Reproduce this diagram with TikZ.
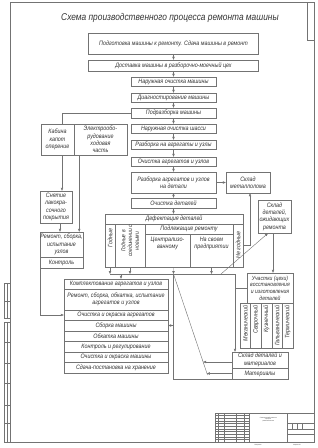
\documentclass[tikz,border=0pt]{standalone}
\usepackage{fontspec}
\setmainfont{Liberation Sans}[FakeStretch=0.85]
\usetikzlibrary{arrows.meta}

\begin{document}
\begin{tikzpicture}[x=1mm, y=-1mm, line width=1.2pt, color=black!55,
  every node/.style={font=\fontsize{18}{21}\selectfont\itshape, text=black!80},
  blk/.style={draw, inner sep=0pt, align=center},
  mid/.style={blk, minimum width=85mm},
  low/.style={blk, minimum width=104mm},
  arr/.style={-{Triangle[length=3mm,width=2.4mm]}},
  tiny/.style={font=\fontsize{4.5}{5}\selectfont\itshape, align=center}]
  \useasboundingbox (0,0) rectangle (317,448);

  % frame
  \draw[line width=1.5pt] (10.7,2.7) rectangle (314.3,442);
  \draw (306.8,2.7) rectangle (314.3,40);
  \draw (4.4,283) rectangle (10.7,318);
  \draw (4.4,301) -- (10.7,301);
  \draw (7.1,283) -- (7.1,318);
  \draw (4.4,322) rectangle (10.7,442);
  \foreach \y in {342,363,383,405,423} \draw (4.4,\y) -- (10.7,\y);
  \draw (7.1,322) -- (7.1,442);

  % title block
  \draw[line width=1.5pt] (215,413) rectangle (314.3,442);
  \foreach \x in {218.7,224,236.3,244.3,249.6} \draw (\x,413) -- (\x,442);
  \foreach \y in {415.7,418.3,421,423.7,426.4,429,431.7,434.4,437.1,439.7} \draw (215,\y) -- (249.6,\y);
  \draw (287,413) -- (287,442);
  \draw (287,423.7) -- (314.3,423.7);
  \draw (287,429) -- (314.3,429);
  \draw (287,434.4) -- (314.3,434.4);
  \foreach \x in {292,297,302} \draw (\x,423.7) -- (\x,429);
  \node[tiny] (name) at (268.3,419.5) {Схема производственного\\процесса\\ремонта машины};
  \node[tiny] (copy) at (258,445.3) {Копировал};
  \node[tiny] (fmt) at (297,445.3) {Формат А1};

  \node (title) at (170,18) {\fontsize{28}{32}\selectfont Схема производственного процесса ремонта машины};

  % main column
  \node[blk, minimum width=170mm, minimum height=21mm] (prep) at (173.5,43.5) {Подготовка машины к ремонту. Сдача машины в ремонт};
  \node[blk, minimum width=170mm, minimum height=11mm] (deliv) at (173.5,65.5) {Доставка машины в разборочно-моечный цех};
  \node[mid, minimum height=9mm] (wash) at (173.5,81.5) {Наружная очистка машины};
  \node[mid, minimum height=9mm] (diag) at (173.5,97.5) {Диагностирование машины};
  \node[mid, minimum height=10mm] (disas) at (173.5,113) {Подразборка машины};
  \node[mid, minimum height=9mm] (chassis) at (173.5,128.5) {Наружная очистка шасси};
  \node[mid, minimum height=9mm] (units) at (173.5,144.5) {Разборка на агрегаты и узлы};
  \node[mid, minimum height=9mm] (cleanunits) at (173.5,161.5) {Очистка агрегатов и узлов};
  \node[mid, minimum height=21mm] (parts) at (173.5,182.5) {Разборка агрегатов и узлов\\на детали};
  \node[mid, minimum height=10mm] (cleanparts) at (173.5,203) {Очистка деталей};

  % defect table
  \node[blk, minimum width=138mm, minimum height=10mm] (defh) at (174,219) {Дефектация деталей};
  \node[blk, minimum width=10mm, minimum height=43mm] (good) at (110,245.5) {};
  \node[blk, minimum width=30mm, minimum height=43mm] (goodnew) at (130,245.5) {};
  \node[blk, minimum width=88mm, minimum height=10mm] (reph) at (189,229) {Подлежащие ремонту};
  \node[blk, minimum width=45mm, minimum height=33mm] (central) at (167.5,250.5) {};
  \node[blk, minimum width=43mm, minimum height=33mm] (own) at (211.5,250.5) {};
  \node[blk, minimum width=10mm, minimum height=43mm] (bad) at (238,245.5) {};
  \node[rotate=90] (goodt) at (110,238) {Годные};
  \node[rotate=90, align=center, font=\fontsize{17}{19}\selectfont\itshape] (goodnewt) at (130,241) {Годные в\\соединении с\\новыми};
  \node[anchor=north, align=center] (centralt) at ([yshift=-1.5mm]central.north) {Централизо-\\ванному};
  \node[anchor=north, align=center] (ownt) at ([yshift=-1.5mm]own.north) {На своем\\предприятии};
  \node[rotate=90] (badt) at (238,245) {Не годные};

  % left branch
  \node[blk, minimum width=33mm, minimum height=31mm] (cab) at (57.5,139.5) {Кабина\\капот\\оперение};
  \node[blk, minimum width=53mm, minimum height=31mm] (elec) at (100.5,139.5) {Электрообо-\\рудование\\ходовая\\часть};
  \node[blk, minimum width=32mm, minimum height=32mm] (paint) at (56,207) {Снятие\\лакокра-\\сочного\\покрытия};
  \node[blk, minimum width=43mm, minimum height=25mm] (repu) at (61.5,244.5) {Ремонт, сборка,\\испытание\\узлов};
  \node[blk, minimum width=43mm, minimum height=11mm] (ctrl) at (61.5,262.5) {Контроль};

  % right branch
  \node[blk, minimum width=44mm, minimum height=21mm] (scrap) at (248,182.5) {Склад\\металлолома};
  \node[blk, minimum width=33mm, minimum height=33mm] (wait) at (274.5,216.5) {Склад\\деталей,\\ожидающих\\ремонта};
  \node[blk, minimum width=46mm, minimum height=30mm, font=\fontsize{17}{19}\selectfont\itshape] (shops) at (270,288) {Участки (цехи)\\восстановления\\и изготовления\\деталей};
  \node[blk, minimum width=10.6mm, minimum height=45mm] (mech) at (245.3,325.5) {};
  \node[blk, minimum width=10.6mm, minimum height=45mm] (weld) at (255.9,325.5) {};
  \node[blk, minimum width=10.6mm, minimum height=45mm] (forge) at (266.5,325.5) {};
  \node[blk, minimum width=10.6mm, minimum height=45mm] (galv) at (277.1,325.5) {};
  \node[blk, minimum width=10.6mm, minimum height=45mm] (heat) at (287.7,325.5) {};
  \node[rotate=90, anchor=east] (mecht) at ([yshift=-1.5mm]mech.north) {Механический};
  \node[rotate=90, anchor=east] (weldt) at ([yshift=-1.5mm]weld.north) {Сварочный};
  \node[rotate=90, anchor=east] (forget) at ([yshift=-1.5mm]forge.north) {Кузнечный};
  \node[rotate=90, anchor=east] (galvt) at ([yshift=-1.5mm]galv.north) {Гальванический};
  \node[rotate=90, anchor=east] (heatt) at ([yshift=-1.5mm]heat.north) {Термический};
  \node[blk, minimum width=56mm, minimum height=16mm] (store) at (260,360) {Склад деталей и\\материалов};
  \node[blk, minimum width=56mm, minimum height=11mm] (mat) at (260,373.5) {Материалы};

  % assembly
  \node[low, minimum height=10mm] (kompl) at (116,284) {Комплектование агрегатов и узлов};
  \node[low, minimum height=21mm] (rep2) at (116,299.5) {Ремонт, сборка, обкатка, испытание\\агрегатов и узлов};
  \node[low, minimum height=10mm] (paintu) at (116,315) {Очистка и окраска агрегатов};
  \node[low, minimum height=11mm] (asm) at (116,325.5) {Сборка машины};
  \node[low, minimum height=10mm] (run) at (116,336) {Обкатка машины};
  \node[low, minimum height=11mm] (adj) at (116,346.5) {Контроль и регулирование};
  \node[low, minimum height=10mm] (paintm) at (116,357) {Очистка и окраска машины};
  \node[low, minimum height=11mm] (hand) at (116,367.5) {Сдача-постановка на хранение};

  \draw[arr] (prep) -- (deliv);
  \draw[arr] (deliv) -- (wash);
  \draw[arr] (wash) -- (diag);
  \draw[arr] (diag) -- (disas);
  \draw[arr] (disas) -- (chassis);
  \draw[arr] (chassis) -- (units);
  \draw[arr] (units) -- (cleanunits);
  \draw[arr] (cleanunits) -- (parts);
  \draw[arr] (parts) -- (cleanparts);
  \draw[arr] (cleanparts.south) -- (cleanparts.south |- defh.north);

  \draw (disas.west) -| ([xshift=4.5mm]cab.north);
  \draw[arr] ([xshift=4.5mm]cab.south) -- ([xshift=4.5mm]cab.south |- paint.north);
  \draw[arr] ([xshift=4mm]paint.south) -- ([xshift=4mm]paint.south |- repu.north);
  \draw[arr] ([xshift=-4mm]repu.north east |- elec.south) -- ([xshift=-4mm]repu.north east);
  \draw[arr] (ctrl.south west) |- (paintu.west);

  \draw[arr] (parts) -- (scrap);
  \draw[arr] (bad.east) -| ([xshift=2mm]scrap.south);
  \draw[arr] ([xshift=-1.5mm]wait.south) -- ([xshift=-1.5mm]wait.south |- shops.north);

  \coordinate (cl) at (110,274);
  \coordinate (cm) at (173.5,274);
  \coordinate (cr) at (235,274);
  \coordinate (dw) at (221,274);
  \coordinate (dg) at (207.5,375);
  \coordinate (d1) at (203.1,362);
  \coordinate (d2) at (206.8,373.5);
  \draw[arr] (good.south) -- (good.south |- cl);
  \draw[arr] (goodnew.south) -- (goodnew.south |- cl);
  \draw[arr] ([xshift=6mm]central.south) -- (cm);
  \draw[arr] (own.south) -- (own.south |- cl);
  \draw (cl) -- (cr);
  \draw[arr] ([xshift=5mm]kompl.north |- cl) -- ([xshift=5mm]kompl.north);
  \draw[arr] (cr) -- (cr |- store.north);
  \draw (shops.west) -- (shops.west -| cr);
  \draw (cm) |- (mat.south west);
  \draw[arr] (cm |- asm.east) -- (asm.east);
  \draw (cm) -- (dg);
  \draw[arr] (store.west |- d1) -- (d1);
  \draw[arr] (mat.west) -- (d2);
  \draw[arr] (dw) -- ([xshift=-6.5mm]wait.south);
\end{tikzpicture}
\end{document}
